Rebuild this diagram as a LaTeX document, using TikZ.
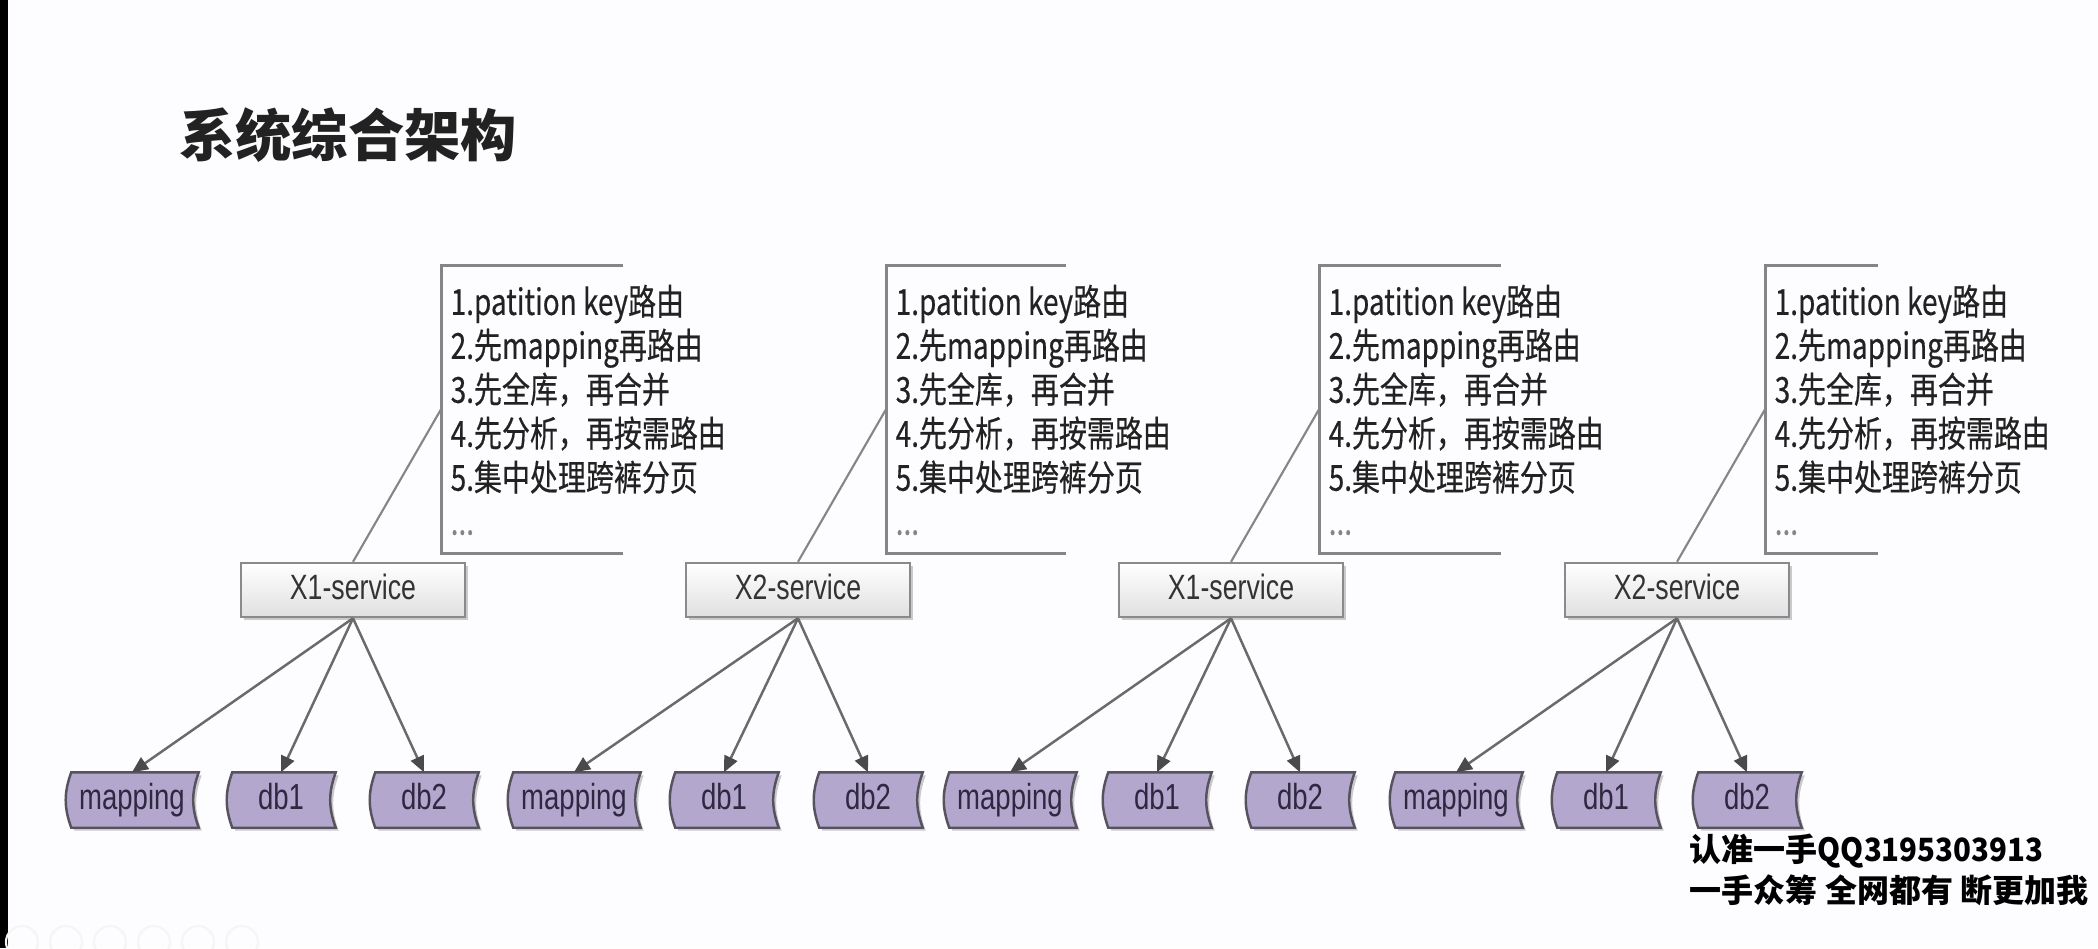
\documentclass[tikz,border=0pt]{standalone}
\usepackage{fontspec}
\setmainfont{Liberation Sans}
\newfontfamily\archcjk{Noto Sans CJK SC}
\newfontfamily\archnote[FakeStretch=0.78, FakeBold=0.4]{Noto Sans CJK SC}
\newfontfamily\archbox[FakeStretch=0.76]{Liberation Sans}
\usepackage{xcolor}
\definecolor{ARCHpaper}{HTML}{FDFCFE}
\definecolor{ARCHink}{HTML}{222222}
\definecolor{ARCHline}{HTML}{858585}
\definecolor{ARCHarrow}{HTML}{6A6A6A}
\definecolor{ARCHtip}{HTML}{4A4A4A}
\definecolor{ARCHsvcline}{HTML}{8A8A8A}
\definecolor{ARCHsvcfill}{HTML}{E0E0E0}
\definecolor{ARCHsvctext}{HTML}{333333}
\definecolor{ARCHdbfill}{HTML}{B3A7CD}
\definecolor{ARCHdbline}{HTML}{56525E}
\definecolor{ARCHdbtext}{HTML}{2E2840}
\usepackage{tikz}
\usetikzlibrary{
  calc, arrows.meta, shadows,
  positioning, backgrounds
}

\begin{document}
\begin{tikzpicture}[x=0.01cm, y=-0.01cm]
    \tikzset{
  svcbox/.style={draw=ARCHsvcline, line width=0.7pt, top color=white, bottom color=ARCHsvcfill,
    minimum width=2.24cm, minimum height=0.54cm, inner sep=0,
    text height=0.25cm, text depth=0.07cm,
    text=ARCHsvctext, font=\archbox\fontsize{10}{12}\selectfont,
    drop shadow={shadow xshift=0.03cm, shadow yshift=-0.03cm, opacity=0.2, fill=black}},
  dbnode/.style={minimum height=0.54cm, inner sep=0, text height=0.25cm, text depth=0.07cm,
    text=ARCHdbtext, font=\archbox\fontsize{10.3}{12}\selectfont},
  dbshape/.style={draw=ARCHdbline, line width=0.7pt, fill=ARCHdbfill,
    drop shadow={shadow xshift=0.03cm, shadow yshift=-0.03cm, opacity=0.2, fill=black}},
  noteframe/.style={minimum height=2.87cm, inner sep=0, anchor=north west},
  notebrace/.style={ARCHline, line width=0.85pt},
  notelink/.style={ARCHline, line width=0.6pt},
  notelab/.style={ARCHink, align=left, inner sep=0, font=\archnote\fontsize{10.2}{12.5}\selectfont},
  fetcharrow/.style={-{Triangle[length=0.16cm, width=0.14cm, color=ARCHtip]}, ARCHarrow, line width=0.7pt},
  titlelab/.style={ARCHink, font=\archcjk\bfseries\fontsize{16}{20}\selectfont},
  footlab/.style={black, align=left, inner sep=0, anchor=north west,
    font=\archcjk\bfseries\fontsize{9.1}{11.7}\selectfont},
}
\useasboundingbox (0,0) rectangle (2098,948);
% ── Paper and screen edge ───────────────────────────────────
\begin{scope}[on background layer]
  \fill[ARCHpaper] (0,0) rectangle (2098,948);
  \fill[black] (0,0) rectangle (8,948);
\end{scope}

% ── Title ───────────────────────────────────────────────────
\node[titlelab] (title) at (348,135) {系统综合架构};

% ── GROUP 1: X1-service ─────────────────────────────────────
\node[svcbox] (svc1) at (353,590) {X1-service};
\node[noteframe, minimum width=1.80cm] (frame1) at (441,265) {};
\draw[notebrace] (frame1.north east) -- (frame1.north west) -- (frame1.south west) -- (frame1.south east);
\node[notelab, below right=0.19cm and 0.09cm of frame1.north west] (txt1) {%
  1.patition key路由\\ 2.先mapping再路由\\ 3.先全库，再合并\\
  4.先分析，再按需路由\\ 5.集中处理跨裤分页\\ {\color{ARCHline}...}};
\draw[notelink] (svc1.north) -- (frame1.west);

\node[dbnode, minimum width=1.32cm] (map1) at (132,800) {mapping};
\node[dbnode, minimum width=1.08cm] (dba1) at (281,800) {db1};
\node[dbnode, minimum width=1.08cm] (dbb1) at (424,800) {db2};
\draw[fetcharrow] (svc1.south) -- (map1.north);
\draw[fetcharrow] (svc1.south) -- (dba1.north);
\draw[fetcharrow] (svc1.south) -- (dbb1.north);

% ── GROUP 2: X2-service ─────────────────────────────────────
\node[svcbox] (svc2) at (798,590) {X2-service};
\node[noteframe, minimum width=1.78cm] (frame2) at (886,265) {};
\draw[notebrace] (frame2.north east) -- (frame2.north west) -- (frame2.south west) -- (frame2.south east);
\node[notelab, below right=0.19cm and 0.09cm of frame2.north west] (txt2) {%
  1.patition key路由\\ 2.先mapping再路由\\ 3.先全库，再合并\\
  4.先分析，再按需路由\\ 5.集中处理跨裤分页\\ {\color{ARCHline}...}};
\draw[notelink] (svc2.north) -- (frame2.west);

\node[dbnode, minimum width=1.32cm] (map2) at (574,800) {mapping};
\node[dbnode, minimum width=1.08cm] (dba2) at (724,800) {db1};
\node[dbnode, minimum width=1.08cm] (dbb2) at (868,800) {db2};
\draw[fetcharrow] (svc2.south) -- (map2.north);
\draw[fetcharrow] (svc2.south) -- (dba2.north);
\draw[fetcharrow] (svc2.south) -- (dbb2.north);

% ── GROUP 3: X1-service ─────────────────────────────────────
\node[svcbox] (svc3) at (1231,590) {X1-service};
\node[noteframe, minimum width=1.80cm] (frame3) at (1319,265) {};
\draw[notebrace] (frame3.north east) -- (frame3.north west) -- (frame3.south west) -- (frame3.south east);
\node[notelab, below right=0.19cm and 0.09cm of frame3.north west] (txt3) {%
  1.patition key路由\\ 2.先mapping再路由\\ 3.先全库，再合并\\
  4.先分析，再按需路由\\ 5.集中处理跨裤分页\\ {\color{ARCHline}...}};
\draw[notelink] (svc3.north) -- (frame3.west);

\node[dbnode, minimum width=1.32cm] (map3) at (1010,800) {mapping};
\node[dbnode, minimum width=1.08cm] (dba3) at (1157,800) {db1};
\node[dbnode, minimum width=1.08cm] (dbb3) at (1300,800) {db2};
\draw[fetcharrow] (svc3.south) -- (map3.north);
\draw[fetcharrow] (svc3.south) -- (dba3.north);
\draw[fetcharrow] (svc3.south) -- (dbb3.north);

% ── GROUP 4: X2-service ─────────────────────────────────────
\node[svcbox] (svc4) at (1677,590) {X2-service};
\node[noteframe, minimum width=1.11cm] (frame4) at (1765,265) {};
\draw[notebrace] (frame4.north east) -- (frame4.north west) -- (frame4.south west) -- (frame4.south east);
\node[notelab, below right=0.19cm and 0.09cm of frame4.north west] (txt4) {%
  1.patition key路由\\ 2.先mapping再路由\\ 3.先全库，再合并\\
  4.先分析，再按需路由\\ 5.集中处理跨裤分页\\ {\color{ARCHline}...}};
\draw[notelink] (svc4.north) -- (frame4.west);

\node[dbnode, minimum width=1.32cm] (map4) at (1456,800) {mapping};
\node[dbnode, minimum width=1.08cm] (dba4) at (1606,800) {db1};
\node[dbnode, minimum width=1.08cm] (dbb4) at (1747,800) {db2};
\draw[fetcharrow] (svc4.south) -- (map4.north);
\draw[fetcharrow] (svc4.south) -- (dba4.north);
\draw[fetcharrow] (svc4.south) -- (dbb4.north);

% ── Stored-data outlines behind the db labels ───────────────
\begin{scope}[on background layer]
  \foreach \n in {map1,dba1,dbb1,map2,dba2,dbb2,map3,dba3,dbb3,map4,dba4,dbb4}{
    \draw[dbshape] ([xshift=0.06cm]\n.north west) -- (\n.north east)
      to[bend right=20] (\n.south east) -- ([xshift=0.06cm]\n.south west)
      to[bend left=20] ([xshift=0.06cm]\n.north west) -- cycle;
  }
\end{scope}

% ── Footer ──────────────────────────────────────────────────
\node[footlab] (foot) at (1689,833) {认准一手{\addfontfeature{FakeStretch=0.92}QQ3195303913}\\ 一手众筹 全网都有 断更加我};

% ── Slide controls (faint) ──────────────────────────────────
\foreach \k in {0,...,5}
  \draw[black!4, line width=0.6pt] (22+44*\k,942) circle[radius=0.16cm];
\end{tikzpicture}
\end{document}
